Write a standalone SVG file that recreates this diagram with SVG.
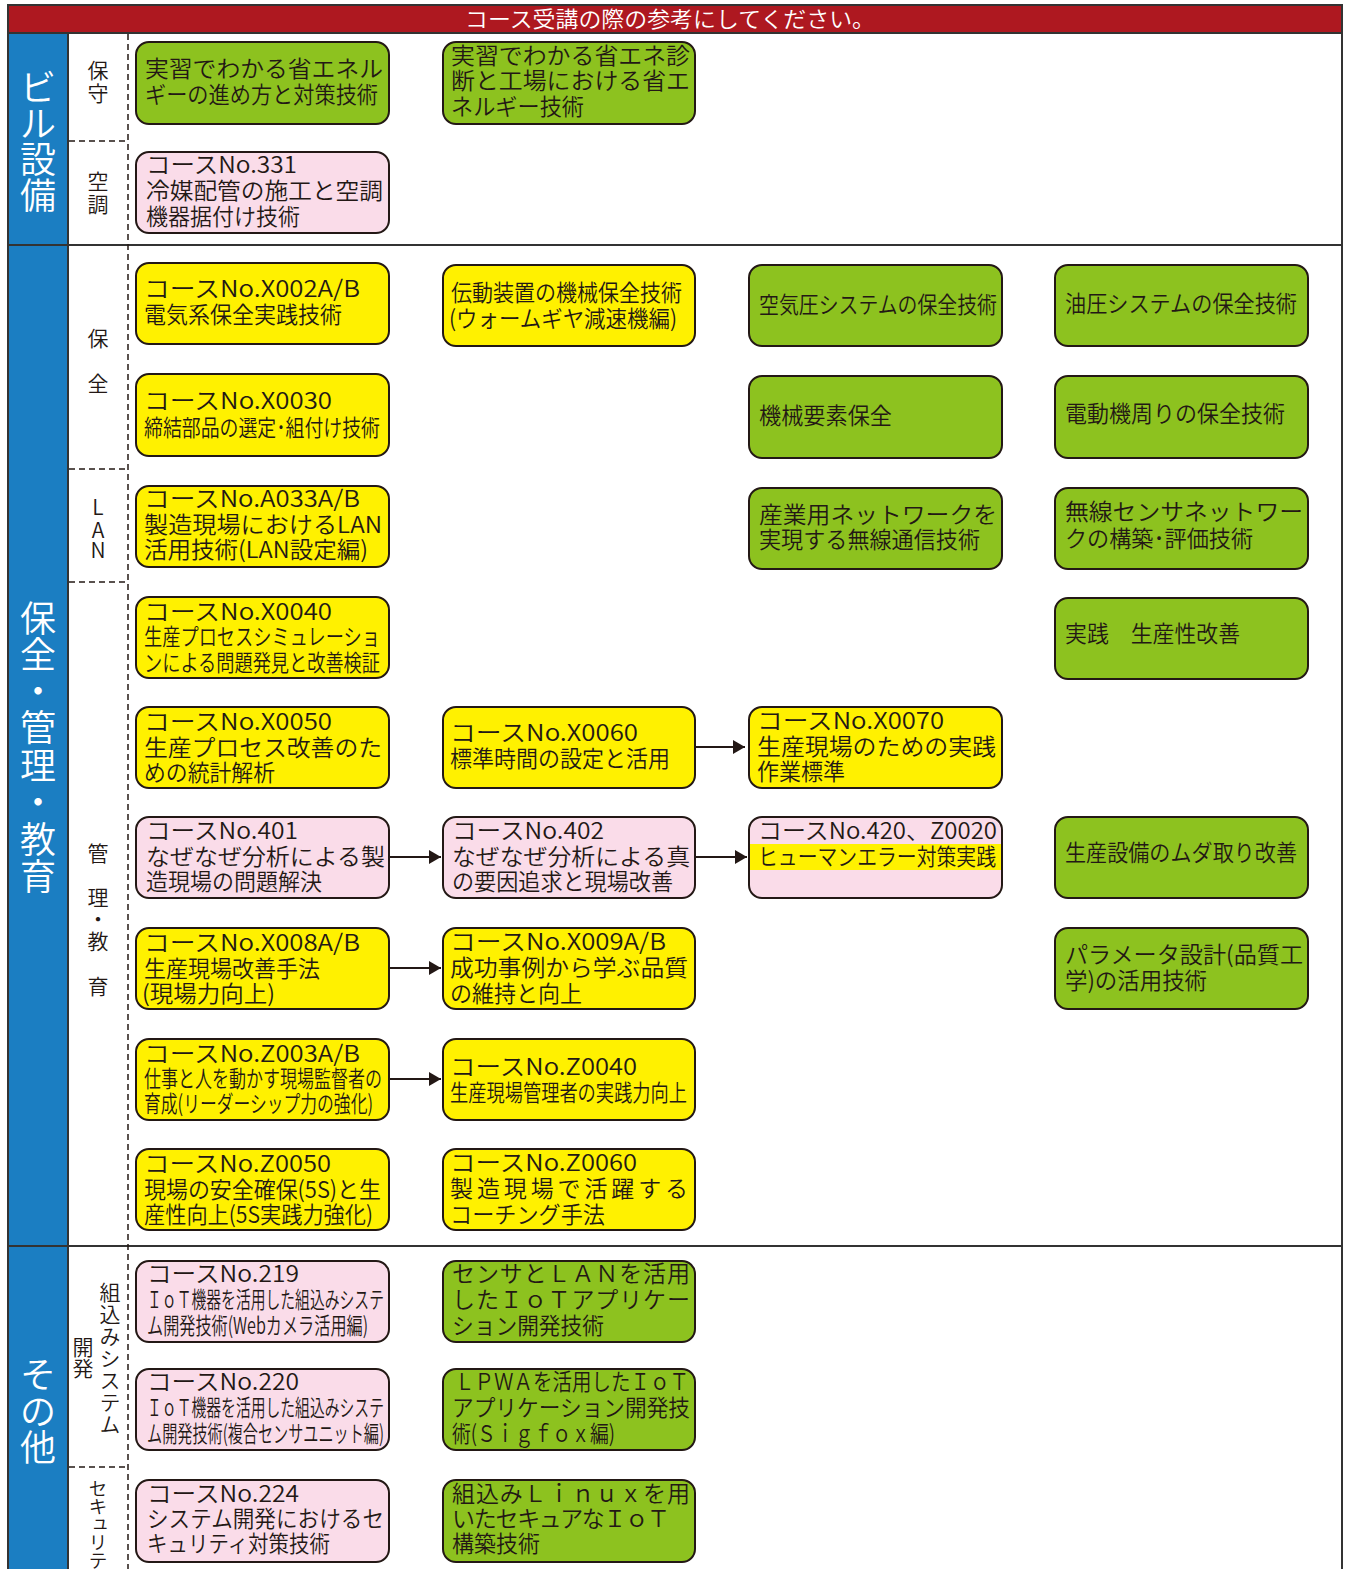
<svg xmlns="http://www.w3.org/2000/svg" width="1348" height="1569" viewBox="0 0 1348 1569">
  <defs>
    <style>
      .frame { stroke: #333; stroke-width: 2; fill: none; }
      .dash { stroke: #231815; stroke-width: 1.5; stroke-dasharray: 6 4; fill: none; }
      .box { stroke: #231815; stroke-width: 2; }
      .g { fill: #8DC21F; }
      .y { fill: #FFF100; }
      .p { fill: #FADCE9; }
      .t { font-family: "Noto Sans CJK JP", "Noto Sans", sans-serif; font-size: 23px; font-weight: 350; fill: #231815; }
      .side { font-family: "Noto Sans CJK JP", sans-serif; font-size: 36px; font-weight: 350; fill: #fff; text-anchor: middle; }
      .sub { font-family: "Noto Sans CJK JP", sans-serif; font-size: 21px; font-weight: 350; fill: #231815; text-anchor: middle; }
      .vert { writing-mode: vertical-rl; text-anchor: start; }
      .head { font-family: "Noto Sans CJK JP", sans-serif; font-size: 22px; font-weight: 350; fill: #fff; text-anchor: middle; }
      .link { stroke: #231815; stroke-width: 2; fill: none; }
    </style>
    <marker id="arrow" markerUnits="userSpaceOnUse" markerWidth="12" markerHeight="14" viewBox="0 0 12 14" refX="12" refY="7" orient="auto">
      <path d="M0,0 L12,7 L0,14 Z" fill="#231815"/>
    </marker>
  </defs>

  <rect width="1348" height="1569" fill="#fff"/>

  <!-- header band -->
  <g id="header">
    <rect x="8" y="5" width="1334" height="28" class="frame" style="fill:#AE1820"/>
    <text class="head" x="670" y="27" textLength="410" lengthAdjust="spacingAndGlyphs">コース受講の際の参考にしてください。</text>
  </g>

  <!-- table frame -->
  <g id="frame">
    <rect x="9" y="33" width="59" height="1536" fill="#1B7EC2"/>
    <line class="frame" x1="8" y1="5" x2="8" y2="1569"/>
    <line class="frame" x1="68" y1="33" x2="68" y2="1569"/>
    <line class="frame" x1="1342" y1="5" x2="1342" y2="1569"/>
    <line class="frame" x1="8" y1="33" x2="1342" y2="33"/>
    <line class="frame" x1="8" y1="245" x2="1342" y2="245"/>
    <line class="frame" x1="8" y1="1246" x2="1342" y2="1246"/>
    <line class="dash" x1="128" y1="34" x2="128" y2="1569"/>
    <line class="dash" x1="69" y1="141" x2="128" y2="141"/>
    <line class="dash" x1="69" y1="469" x2="128" y2="469"/>
    <line class="dash" x1="69" y1="582" x2="128" y2="582"/>
    <line class="dash" x1="69" y1="1467" x2="128" y2="1467"/>
  </g>

  <!-- section labels (one glyph per position, stacked vertically) -->
  <g id="section-labels">
    <text class="side" x="38 38 38 38" y="101 137 173 209">ビル設備</text>
    <text class="side" x="38 38 38 38 38 38 38 38" y="632 668 705 741 779 816 853 890">保全・管理・教育</text>
    <text class="side" x="38 38 38" y="1388 1425 1461">その他</text>
  </g>

  <g id="sub-labels">
    <text class="sub" x="98 98" y="78 101">保守</text>
    <text class="sub" x="98 98" y="189 212">空調</text>
    <text class="sub" x="98 98" y="346 391">保全</text>
    <text class="sub" x="98 98 98" y="515 538 558">LAN</text>
    <text class="sub" x="98 98 98 98 98" y="861 905 927 949 994">管理・教育</text>
    <text class="sub vert" x="110" y="1282" letter-spacing="1">組込みシステム</text>
    <text class="sub vert" x="83" y="1337">開発</text>
    <text class="sub vert" x="98" y="1479" style="font-size:19px" letter-spacing="-1">セキュリティ</text>
  </g>

  <!-- connectors -->
  <g id="connectors">
    <line class="link" x1="696" y1="747" x2="745" y2="747" marker-end="url(#arrow)"/>
    <line class="link" x1="390" y1="857" x2="441" y2="857" marker-end="url(#arrow)"/>
    <line class="link" x1="696" y1="857" x2="747" y2="857" marker-end="url(#arrow)"/>
    <line class="link" x1="390" y1="968" x2="441" y2="968" marker-end="url(#arrow)"/>
    <line class="link" x1="390" y1="1079" x2="441" y2="1079" marker-end="url(#arrow)"/>
  </g>

  <!-- course nodes -->
  <g id="n1"><rect class="box g" x="136" y="42" width="253" height="82" rx="13"/>
    <text class="t"><tspan x="145" y="77" textLength="238" lengthAdjust="spacingAndGlyphs">実習でわかる省エネル</tspan><tspan x="145" y="103" textLength="233" lengthAdjust="spacingAndGlyphs">ギーの進め方と対策技術</tspan></text></g>
  <g id="n2"><rect class="box g" x="443" y="42" width="252" height="82" rx="13"/>
    <text class="t"><tspan x="451" y="64" textLength="239" lengthAdjust="spacingAndGlyphs">実習でわかる省エネ診</tspan><tspan x="451" y="89" textLength="239" lengthAdjust="spacingAndGlyphs">断と工場における省エ</tspan><tspan x="451" y="115" textLength="133" lengthAdjust="spacingAndGlyphs">ネルギー技術</tspan></text></g>
  <g id="n3"><rect class="box p" x="136" y="152" width="253" height="81" rx="13"/>
    <text class="t"><tspan x="146" y="173" textLength="151" lengthAdjust="spacingAndGlyphs">コースNo.331</tspan><tspan x="146" y="199" textLength="237" lengthAdjust="spacingAndGlyphs">冷媒配管の施工と空調</tspan><tspan x="146" y="225" textLength="154" lengthAdjust="spacingAndGlyphs">機器据付け技術</tspan></text></g>

  <g id="n4"><rect class="box y" x="136" y="263" width="253" height="81" rx="13"/>
    <text class="t"><tspan x="144" y="297" textLength="216" lengthAdjust="spacingAndGlyphs">コースNo.X002A/B</tspan><tspan x="144" y="323" textLength="198" lengthAdjust="spacingAndGlyphs">電気系保全実践技術</tspan></text></g>
  <g id="n5"><rect class="box y" x="443" y="265" width="252" height="81" rx="13"/>
    <text class="t"><tspan x="451" y="301" textLength="231" lengthAdjust="spacingAndGlyphs">伝動装置の機械保全技術</tspan><tspan x="449" y="327" textLength="228" lengthAdjust="spacingAndGlyphs">(ウォームギヤ減速機編)</tspan></text></g>
  <g id="n6"><rect class="box g" x="749" y="265" width="253" height="81" rx="13"/>
    <text class="t" x="759" y="313" textLength="238" lengthAdjust="spacingAndGlyphs">空気圧システムの保全技術</text></g>
  <g id="n7"><rect class="box g" x="1055" y="265" width="253" height="81" rx="13"/>
    <text class="t" x="1065" y="312" textLength="232" lengthAdjust="spacingAndGlyphs">油圧システムの保全技術</text></g>

  <g id="n8"><rect class="box y" x="136" y="374" width="253" height="82" rx="13"/>
    <text class="t"><tspan x="144" y="409" textLength="188" lengthAdjust="spacingAndGlyphs">コースNo.X0030</tspan><tspan x="144" y="436" textLength="236" lengthAdjust="spacingAndGlyphs">締結部品の選定･組付け技術</tspan></text></g>
  <g id="n9"><rect class="box g" x="749" y="376" width="253" height="82" rx="13"/>
    <text class="t" x="759" y="424" textLength="133" lengthAdjust="spacingAndGlyphs">機械要素保全</text></g>
  <g id="n10"><rect class="box g" x="1055" y="376" width="253" height="82" rx="13"/>
    <text class="t" x="1065" y="422" textLength="220" lengthAdjust="spacingAndGlyphs">電動機周りの保全技術</text></g>

  <g id="n11"><rect class="box y" x="136" y="486" width="253" height="81" rx="13"/>
    <text class="t"><tspan x="144" y="507" textLength="216" lengthAdjust="spacingAndGlyphs">コースNo.A033A/B</tspan><tspan x="144" y="533" textLength="238" lengthAdjust="spacingAndGlyphs">製造現場におけるLAN</tspan><tspan x="144" y="558" textLength="224" lengthAdjust="spacingAndGlyphs">活用技術(LAN設定編)</tspan></text></g>
  <g id="n12"><rect class="box g" x="749" y="488" width="253" height="81" rx="13"/>
    <text class="t"><tspan x="759" y="523" textLength="238" lengthAdjust="spacingAndGlyphs">産業用ネットワークを</tspan><tspan x="759" y="548" textLength="221" lengthAdjust="spacingAndGlyphs">実現する無線通信技術</tspan></text></g>
  <g id="n13"><rect class="box g" x="1055" y="488" width="253" height="81" rx="13"/>
    <text class="t"><tspan x="1065" y="520" textLength="238" lengthAdjust="spacingAndGlyphs">無線センサネットワー</tspan><tspan x="1065" y="547" textLength="188" lengthAdjust="spacingAndGlyphs">クの構築･評価技術</tspan></text></g>

  <g id="n14"><rect class="box y" x="136" y="597" width="253" height="81" rx="13"/>
    <text class="t"><tspan x="144" y="620" textLength="188" lengthAdjust="spacingAndGlyphs">コースNo.X0040</tspan><tspan x="144" y="645" textLength="236" lengthAdjust="spacingAndGlyphs">生産プロセスシミュレーショ</tspan><tspan x="144" y="671" textLength="236" lengthAdjust="spacingAndGlyphs">ンによる問題発見と改善検証</tspan></text></g>
  <g id="n15"><rect class="box g" x="1055" y="598" width="253" height="81" rx="13"/>
    <text class="t" x="1065" y="642" textLength="175" lengthAdjust="spacingAndGlyphs">実践　生産性改善</text></g>

  <g id="n16"><rect class="box y" x="136" y="707" width="253" height="81" rx="13"/>
    <text class="t"><tspan x="144" y="730" textLength="188" lengthAdjust="spacingAndGlyphs">コースNo.X0050</tspan><tspan x="144" y="756" textLength="238" lengthAdjust="spacingAndGlyphs">生産プロセス改善のた</tspan><tspan x="144" y="781" textLength="131" lengthAdjust="spacingAndGlyphs">めの統計解析</tspan></text></g>
  <g id="n17"><rect class="box y" x="443" y="707" width="252" height="81" rx="13"/>
    <text class="t"><tspan x="450" y="741" textLength="188" lengthAdjust="spacingAndGlyphs">コースNo.X0060</tspan><tspan x="450" y="767" textLength="220" lengthAdjust="spacingAndGlyphs">標準時間の設定と活用</tspan></text></g>
  <g id="n18"><rect class="box y" x="749" y="707" width="253" height="81" rx="13"/>
    <text class="t"><tspan x="757" y="729" textLength="187" lengthAdjust="spacingAndGlyphs">コースNo.X0070</tspan><tspan x="757" y="755" textLength="239" lengthAdjust="spacingAndGlyphs">生産現場のための実践</tspan><tspan x="757" y="780" textLength="88" lengthAdjust="spacingAndGlyphs">作業標準</tspan></text></g>

  <g id="n19"><rect class="box p" x="136" y="817" width="253" height="81" rx="13"/>
    <text class="t"><tspan x="146" y="839" textLength="152" lengthAdjust="spacingAndGlyphs">コースNo.401</tspan><tspan x="146" y="865" textLength="239" lengthAdjust="spacingAndGlyphs">なぜなぜ分析による製</tspan><tspan x="146" y="890" textLength="176" lengthAdjust="spacingAndGlyphs">造現場の問題解決</tspan></text></g>
  <g id="n20"><rect class="box p" x="443" y="817" width="252" height="81" rx="13"/>
    <text class="t"><tspan x="452" y="839" textLength="152" lengthAdjust="spacingAndGlyphs">コースNo.402</tspan><tspan x="452" y="865" textLength="238" lengthAdjust="spacingAndGlyphs">なぜなぜ分析による真</tspan><tspan x="452" y="890" textLength="221" lengthAdjust="spacingAndGlyphs">の要因追求と現場改善</tspan></text></g>
  <g id="n21"><rect class="p" x="749" y="817" width="253" height="81" rx="13"/>
    <rect class="y" x="750" y="844" width="251" height="26"/>
    <rect class="box" x="749" y="817" width="253" height="81" rx="13" fill="none"/>
    <text class="t"><tspan x="758" y="839" textLength="239" lengthAdjust="spacingAndGlyphs">コースNo.420、Z0020</tspan><tspan x="758" y="865" textLength="238" lengthAdjust="spacingAndGlyphs">ヒューマンエラー対策実践</tspan></text></g>
  <g id="n22"><rect class="box g" x="1055" y="817" width="253" height="81" rx="13"/>
    <text class="t" x="1065" y="861" textLength="232" lengthAdjust="spacingAndGlyphs">生産設備のムダ取り改善</text></g>

  <g id="n23"><rect class="box y" x="136" y="928" width="253" height="81" rx="13"/>
    <text class="t"><tspan x="144" y="951" textLength="216" lengthAdjust="spacingAndGlyphs">コースNo.X008A/B</tspan><tspan x="144" y="977" textLength="176" lengthAdjust="spacingAndGlyphs">生産現場改善手法</tspan><tspan x="142" y="1002" textLength="133" lengthAdjust="spacingAndGlyphs">(現場力向上)</tspan></text></g>
  <g id="n24"><rect class="box y" x="443" y="928" width="252" height="81" rx="13"/>
    <text class="t"><tspan x="450" y="950" textLength="216" lengthAdjust="spacingAndGlyphs">コースNo.X009A/B</tspan><tspan x="450" y="976" textLength="238" lengthAdjust="spacingAndGlyphs">成功事例から学ぶ品質</tspan><tspan x="450" y="1002" textLength="132" lengthAdjust="spacingAndGlyphs">の維持と向上</tspan></text></g>
  <g id="n25"><rect class="box g" x="1055" y="928" width="253" height="81" rx="13"/>
    <text class="t"><tspan x="1065" y="963" textLength="238" lengthAdjust="spacingAndGlyphs">パラメータ設計(品質工</tspan><tspan x="1065" y="989" textLength="142" lengthAdjust="spacingAndGlyphs">学)の活用技術</tspan></text></g>

  <g id="n26"><rect class="box y" x="136" y="1039" width="253" height="81" rx="13"/>
    <text class="t"><tspan x="144" y="1062" textLength="216" lengthAdjust="spacingAndGlyphs">コースNo.Z003A/B</tspan><tspan x="144" y="1087" textLength="238" lengthAdjust="spacingAndGlyphs">仕事と人を動かす現場監督者の</tspan><tspan x="144" y="1112" textLength="229" lengthAdjust="spacingAndGlyphs">育成(リーダーシップ力の強化)</tspan></text></g>
  <g id="n27"><rect class="box y" x="443" y="1039" width="252" height="81" rx="13"/>
    <text class="t"><tspan x="450" y="1075" textLength="187" lengthAdjust="spacingAndGlyphs">コースNo.Z0040</tspan><tspan x="450" y="1101" textLength="237" lengthAdjust="spacingAndGlyphs">生産現場管理者の実践力向上</tspan></text></g>

  <g id="n28"><rect class="box y" x="136" y="1149" width="253" height="81" rx="13"/>
    <text class="t"><tspan x="144" y="1172" textLength="187" lengthAdjust="spacingAndGlyphs">コースNo.Z0050</tspan><tspan x="144" y="1198" textLength="237" lengthAdjust="spacingAndGlyphs">現場の安全確保(5S)と生</tspan><tspan x="144" y="1223" textLength="229" lengthAdjust="spacingAndGlyphs">産性向上(5S実践力強化)</tspan></text></g>
  <g id="n29"><rect class="box y" x="443" y="1149" width="252" height="81" rx="13"/>
    <text class="t"><tspan x="450" y="1171" textLength="187" lengthAdjust="spacingAndGlyphs">コースNo.Z0060</tspan><tspan x="450" y="1197" textLength="238" lengthAdjust="spacing">製造現場で活躍する</tspan><tspan x="450" y="1223" textLength="155" lengthAdjust="spacingAndGlyphs">コーチング手法</tspan></text></g>

  <g id="n30"><rect class="box p" x="136" y="1261" width="253" height="81" rx="13"/>
    <text class="t"><tspan x="147" y="1282" textLength="152" lengthAdjust="spacingAndGlyphs">コースNo.219</tspan><tspan x="147" y="1308" textLength="237" lengthAdjust="spacingAndGlyphs">ＩｏＴ機器を活用した組込みシステ</tspan><tspan x="147" y="1334" textLength="221" lengthAdjust="spacingAndGlyphs">ム開発技術(Webカメラ活用編)</tspan></text></g>
  <g id="n31"><rect class="box g" x="443" y="1261" width="252" height="81" rx="13"/>
    <text class="t"><tspan x="452" y="1282" textLength="238" lengthAdjust="spacing">センサとＬＡＮを活用</tspan><tspan x="452" y="1308" textLength="238" lengthAdjust="spacing">したＩｏＴアプリケー</tspan><tspan x="452" y="1334" textLength="152" lengthAdjust="spacingAndGlyphs">ション開発技術</tspan></text></g>

  <g id="n32"><rect class="box p" x="136" y="1369" width="253" height="81" rx="13"/>
    <text class="t"><tspan x="147" y="1390" textLength="152" lengthAdjust="spacingAndGlyphs">コースNo.220</tspan><tspan x="147" y="1416" textLength="237" lengthAdjust="spacingAndGlyphs">ＩｏＴ機器を活用した組込みシステ</tspan><tspan x="147" y="1442" textLength="237" lengthAdjust="spacingAndGlyphs">ム開発技術(複合センサユニット編)</tspan></text></g>
  <g id="n33"><rect class="box g" x="443" y="1369" width="252" height="81" rx="13"/>
    <text class="t"><tspan x="455" y="1390" textLength="234" lengthAdjust="spacingAndGlyphs">ＬＰＷＡを活用したＩｏＴ</tspan><tspan x="452" y="1416" textLength="238" lengthAdjust="spacingAndGlyphs">アプリケーション開発技</tspan><tspan x="452" y="1442" textLength="163" lengthAdjust="spacingAndGlyphs">術(Ｓｉｇｆｏｘ編)</tspan></text></g>

  <g id="n34"><rect class="box p" x="136" y="1480" width="253" height="82" rx="13"/>
    <text class="t"><tspan x="147" y="1502" textLength="152" lengthAdjust="spacingAndGlyphs">コースNo.224</tspan><tspan x="147" y="1527" textLength="237" lengthAdjust="spacingAndGlyphs">システム開発におけるセ</tspan><tspan x="147" y="1552" textLength="183" lengthAdjust="spacingAndGlyphs">キュリティ対策技術</tspan></text></g>
  <g id="n35"><rect class="box g" x="443" y="1480" width="252" height="82" rx="13"/>
    <text class="t"><tspan x="452" y="1502" textLength="238" lengthAdjust="spacing">組込みＬｉｎｕｘを用</tspan><tspan x="452" y="1527" textLength="218" lengthAdjust="spacing">いたセキュアなＩｏＴ</tspan><tspan x="452" y="1552" textLength="88" lengthAdjust="spacingAndGlyphs">構築技術</tspan></text></g>
</svg>
